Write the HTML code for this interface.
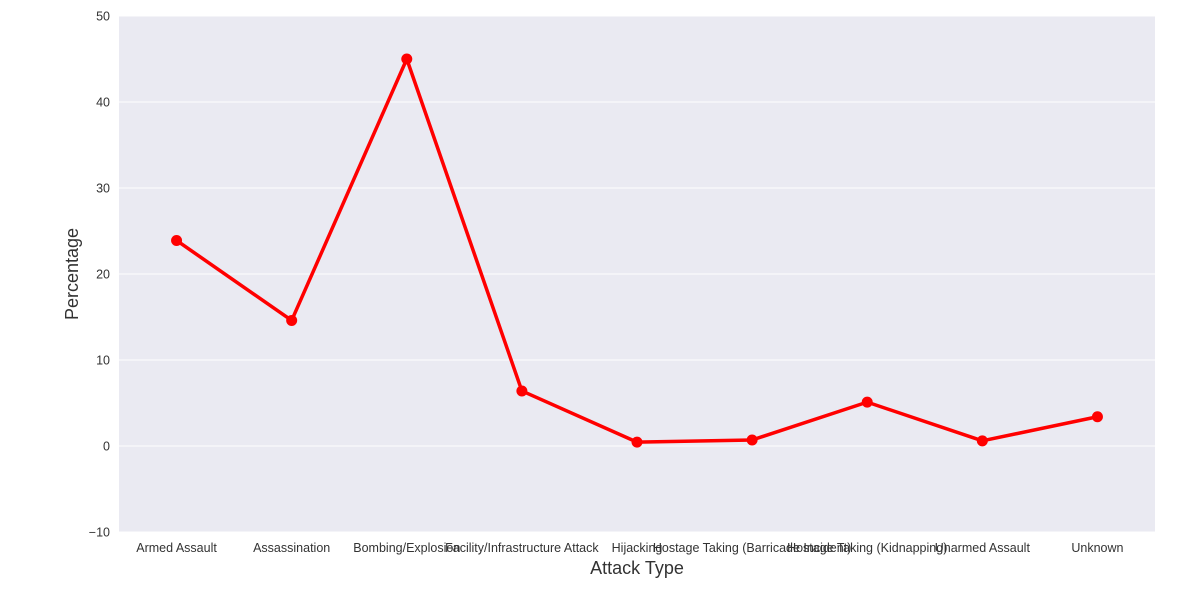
<!DOCTYPE html>
<html><head><meta charset="utf-8"><style>
body{margin:0;background:#fff;font-family:"Liberation Sans",sans-serif;}
svg text{font-family:"Liberation Sans",sans-serif;fill:#333;}
</style></head><body>
<svg id="chart" width="1182" height="584"></svg>
<script>
const categories=["Armed Assault","Assassination","Bombing/Explosion","Facility/Infrastructure Attack","Hijacking","Hostage Taking (Barricade Incident)","Hostage Taking (Kidnapping)","Unarmed Assault","Unknown"];
const percentages=[23.9,14.6,45.0,6.4,0.45,0.7,5.1,0.6,3.4];
const yTicks=[-10,0,10,20,30,40,50];
const yTickLabels=["\u221210","0","10","20","30","40","50"];
const NS="http://www.w3.org/2000/svg";
const svg=document.getElementById('chart');
const L=119,R=1155,T=16,B=532,ymin=-10,ymax=50;
const y=v=>B-(v-ymin)/(ymax-ymin)*(B-T);
const bw=(R-L)/categories.length;
const x=i=>L+bw*(i+0.5);
function mk(t,a){const e=document.createElementNS(NS,t);for(const k in a)e.setAttribute(k,a[k]);svg.appendChild(e);return e;}
let bg=mk('rect',{x:L,y:T,width:R-L,height:B-T,fill:'#eaeaf2'});


yTicks.forEach((v,i)=>{
 let g=mk('line',{x1:L,x2:R,y1:y(v),y2:y(v),stroke:'#fff','stroke-width':1});
 
 
 let t=mk('text',{x:110,y:y(v)+4.5,'text-anchor':'end','font-size':12.5});
 t.textContent=yTickLabels[i];
 
 
});
categories.forEach((c,i)=>{
 let t=mk('text',{x:x(i),y:552,'text-anchor':'middle','font-size':12.5});
 t.textContent=c;
 
 
});
let p=mk('polyline',{points:percentages.map((v,i)=>x(i)+','+y(v)).join(' '),fill:'none',stroke:'#ff0000','stroke-width':3.5,'stroke-linejoin':'round'});


percentages.forEach((v,i)=>{
 let c=mk('circle',{cx:x(i),cy:y(v),r:5.5,fill:'#ff0000'});
 
 
});
let xt=mk('text',{x:(L+R)/2,y:574,'text-anchor':'middle','font-size':18});
xt.textContent='Attack Type';


let yt=mk('text',{x:78,y:(T+B)/2,'text-anchor':'middle','font-size':18,transform:'rotate(-90 78 '+(T+B)/2+')'});
yt.textContent='Percentage';


</script>
</body></html>
